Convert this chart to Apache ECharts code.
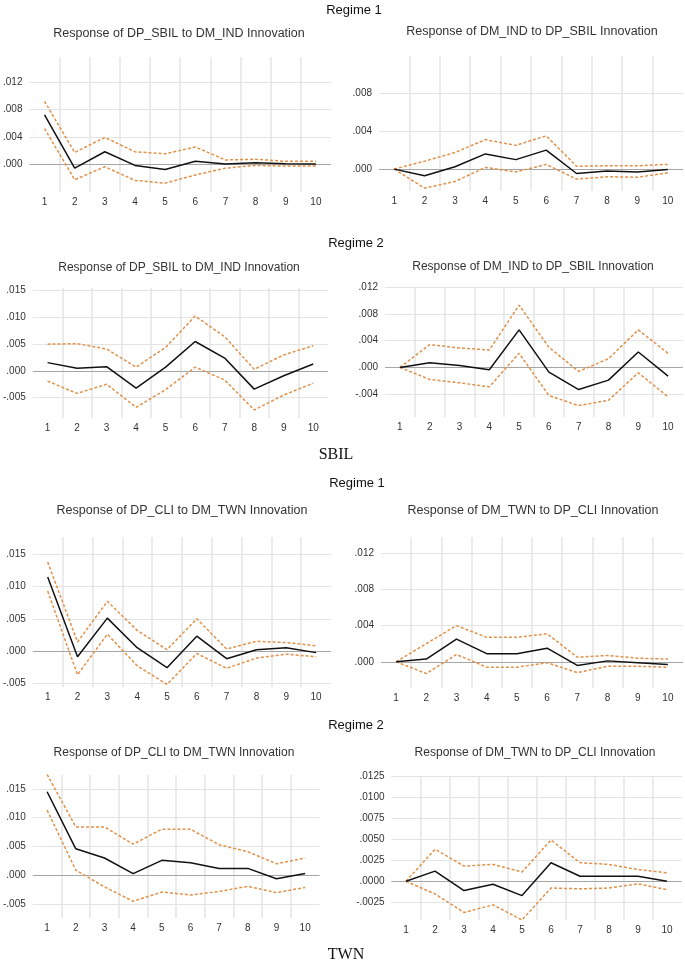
<!DOCTYPE html>
<html>
<head>
<meta charset="utf-8">
<script src="https://cdn.jsdelivr.net/npm/echarts@6/dist/echarts.min.js"></script>
<style>
html, body { margin: 0; padding: 0; background: #fff; }
#main { width: 685px; height: 966px; }
</style>
</head>
<body>
<div id="main"></div>
<script>
// horizon 1..10
const periods = ['1', '2', '3', '4', '5', '6', '7', '8', '9', '10'];

// SBIL, regime 1
const sbilR1DpResp = [0.0072, -0.0006, 0.0018, -0.0002, -0.0008, 0.0004, 0.0000, 0.0002, 0.00005, 0.0000];
const sbilR1DpUp = [0.0092, 0.0017, 0.0039, 0.0018, 0.0015, 0.0025, 0.0006, 0.0007, 0.0004, 0.0004];
const sbilR1DpLo = [0.0052, -0.0023, -0.0004, -0.0024, -0.0028, -0.0016, -0.0006, -0.0002, -0.0003, -0.0003];
const sbilR1DmResp = [0.0000, -0.0007, 0.00025, 0.0016, 0.0010, 0.0020, -0.00046, -0.0002, -0.0003, -0.00004];
const sbilR1DmUp = [0.0000, 0.00084, 0.00175, 0.0031, 0.0025, 0.0035, 0.0003, 0.00035, 0.00035, 0.0005];
const sbilR1DmLo = [0.0000, -0.0020, -0.0013, 0.00018, -0.0003, 0.0005, -0.00105, -0.0008, -0.00085, -0.0004];

// SBIL, regime 2
const sbilR2DpResp = [0.00155, 0.0005, 0.0008, -0.0032, 0.0007, 0.0055, 0.0024, -0.0034, -0.0009, 0.0013];
const sbilR2DpUp = [0.0050, 0.0051, 0.0041, 0.0007, 0.0044, 0.01025, 0.0064, 0.0003, 0.0030, 0.0047];
const sbilR2DpLo = [-0.0019, -0.0042, -0.0025, -0.0068, -0.0035, 0.0007, -0.0017, -0.0073, -0.0045, -0.0023];
const sbilR2DmResp = [0.0000, 0.0007, 0.0003, -0.00035, 0.0056, -0.0007, -0.0033, -0.0019, 0.0023, -0.0013];
const sbilR2DmUp = [0.0000, 0.0034, 0.0029, 0.0026, 0.0093, 0.0030, -0.0006, 0.0013, 0.0056, 0.0021];
const sbilR2DmLo = [0.0000, -0.0018, -0.0023, -0.0029, 0.0021, -0.0042, -0.0057, -0.0049, -0.0008, -0.0044];

// TWN, regime 1
const twnR1DpResp = [0.0115, -0.0009, 0.0051, 0.0005, -0.0026, 0.0023, -0.0012, 0.0002, 0.0005, -0.00026];
const twnR1DpUp = [0.0138, 0.0014, 0.0077, 0.0032, 0.0002, 0.0050, 0.0003, 0.0015, 0.0013, 0.0008];
const twnR1DpLo = [0.0093, -0.0037, 0.0026, -0.0023, -0.0052, -0.0004, -0.0027, -0.0011, -0.0005, -0.0009];
const twnR1DmResp = [0.0000, 0.0003, 0.0025, 0.0009, 0.0009, 0.0015, -0.0004, 0.0001, -0.0001, -0.0003];
const twnR1DmUp = [0.0000, 0.0020, 0.0040, 0.0027, 0.0027, 0.0031, 0.0005, 0.0007, 0.0004, 0.0003];
const twnR1DmLo = [0.0000, -0.0013, 0.0008, -0.0006, -0.0006, -0.0001, -0.0012, -0.0005, -0.0005, -0.0006];

// TWN, regime 2
const twnR2DpResp = [0.0145, 0.0046, 0.0030, 0.0003, 0.0026, 0.0022, 0.0012, 0.0012, -0.0006, 0.0003];
const twnR2DpUp = [0.0175, 0.0084, 0.0084, 0.0054, 0.0080, 0.0080, 0.0053, 0.0041, 0.0020, 0.0030];
const twnR2DpLo = [0.0113, 0.0009, -0.0020, -0.0045, -0.0029, -0.0034, -0.0028, -0.0019, -0.0030, -0.0021];
const twnR2DmResp = [0.0000, 0.0012, -0.0011, -0.00036, -0.0017, 0.0022, 0.0006, 0.0006, 0.0006, 0.0000];
const twnR2DmUp = [0.0000, 0.0038, 0.0018, 0.0020, 0.0011, 0.0049, 0.0022, 0.0020, 0.0014, 0.0010];
const twnR2DmLo = [0.0000, -0.0015, -0.0037, -0.0028, -0.0046, -0.0008, -0.0009, -0.0008, -0.0003, -0.0010];

// y tick labels per panel
const ticksA = [0, 0.004, 0.008, 0.012];
const ticksB = [0, 0.004, 0.008];
const ticksC = [-0.005, 0, 0.005, 0.010, 0.015];
const ticksD = [-0.004, 0, 0.004, 0.008, 0.012];
const ticksE = [-0.0025, 0, 0.0025, 0.0050, 0.0075, 0.0100, 0.0125];

const panels = [
  { title: 'Response of DP_SBIL to DM_IND Innovation', tx: 179, ty: 34, fs: 12.5, grid: [27, 57, 304, 135], min: -0.0041, max: 0.0157, ticks: ticksA, dec: 3, resp: sbilR1DpResp, up: sbilR1DpUp, lo: sbilR1DpLo },
  { title: 'Response of DM_IND to DP_SBIL Innovation', tx: 532, ty: 32, fs: 12.5, grid: [379, 56, 304, 135], min: -0.0023, max: 0.0119, ticks: ticksB, dec: 3, resp: sbilR1DmResp, up: sbilR1DmUp, lo: sbilR1DmLo },
  { title: 'Response of DP_SBIL to DM_IND Innovation', tx: 179, ty: 268, fs: 12, grid: [29, 288, 299, 130], min: -0.0088, max: 0.0155, ticks: ticksC, dec: 3, resp: sbilR2DpResp, up: sbilR2DpUp, lo: sbilR2DpLo },
  { title: 'Response of DM_IND to DP_SBIL Innovation', tx: 533, ty: 267, fs: 12, grid: [385, 287, 298, 130], min: -0.0074, max: 0.012, ticks: ticksD, dec: 3, resp: sbilR2DmResp, up: sbilR2DmUp, lo: sbilR2DmLo },
  { title: 'Response of DP_CLI to DM_TWN Innovation', tx: 182, ty: 511, fs: 12.5, grid: [30, 537, 301, 150], min: -0.0056, max: 0.0177, ticks: ticksC, dec: 3, resp: twnR1DpResp, up: twnR1DpUp, lo: twnR1DpLo },
  { title: 'Response of DM_TWN to DP_CLI Innovation', tx: 533, ty: 511, fs: 12.5, grid: [381, 537, 302, 151], min: -0.0029, max: 0.0138, ticks: ticksA, dec: 3, resp: twnR1DmResp, up: twnR1DmUp, lo: twnR1DmLo },
  { title: 'Response of DP_CLI to DM_TWN Innovation', tx: 174, ty: 753, fs: 12, grid: [28.5, 775, 291, 143], min: -0.0074, max: 0.0174, ticks: ticksC, dec: 3, resp: twnR2DpResp, up: twnR2DpUp, lo: twnR2DpLo },
  { title: 'Response of DM_TWN to DP_CLI Innovation', tx: 535, ty: 753, fs: 12, grid: [391.5, 776, 290, 144], min: -0.0046, max: 0.0125, ticks: ticksE, dec: 4, resp: twnR2DmResp, up: twnR2DmUp, lo: twnR2DmLo }
];

const labelFont = '"Liberation Sans", Arial, sans-serif';
const bandColor = '#e0914a';
const gridColor = '#e4e4e4';

function fmt(v, dec) {
  return v.toFixed(dec).replace('0.', '.');
}

var chartDom = document.getElementById('main');
var myChart = echarts.init(chartDom);

var grids = [], xAxes = [], yAxes = [], series = [], graphics = [];

panels.forEach((p, i) => {
  grids.push({ left: p.grid[0], top: p.grid[1], width: p.grid[2], height: p.grid[3] });
  xAxes.push({
    type: 'category',
    gridIndex: i,
    data: periods,
    boundaryGap: true,
    axisLine: { show: false },
    axisTick: { show: false },
    axisLabel: { color: '#333', fontSize: 10, margin: 5, fontFamily: labelFont },
    splitLine: { show: true, showMinLine: false, showMaxLine: false, lineStyle: { color: gridColor, width: 1.5 } }
  });
  yAxes.push({
    type: 'value',
    gridIndex: i,
    min: p.min,
    max: p.max,
    axisLine: { show: false },
    axisTick: { show: false, customValues: p.ticks },
    axisLabel: {
      customValues: p.ticks,
      color: '#333',
      fontSize: 10,
      margin: 7,
      fontFamily: labelFont,
      formatter: v => fmt(v, p.dec)
    },
    splitLine: { show: true, lineStyle: { color: gridColor, width: 1.2 } }
  });
  series.push({
    type: 'line', xAxisIndex: i, yAxisIndex: i, data: p.up,
    symbol: 'none', silent: true,
    lineStyle: { color: bandColor, width: 1.5, type: [3, 2] }
  });
  series.push({
    type: 'line', xAxisIndex: i, yAxisIndex: i, data: p.lo,
    symbol: 'none', silent: true,
    lineStyle: { color: bandColor, width: 1.5, type: [3, 2] }
  });
  series.push({
    type: 'line', xAxisIndex: i, yAxisIndex: i, data: p.resp,
    symbol: 'none', silent: true, z: 3,
    lineStyle: { color: '#111', width: 1.5 },
    markLine: {
      silent: true, symbol: 'none', z: 1,
      label: { show: false },
      lineStyle: { color: '#a6a6a6', width: 1.2, type: 'solid' },
      data: [{ yAxis: 0 }]
    }
  });
  graphics.push({
    type: 'text', x: p.tx, y: p.ty,
    style: { text: p.title, fill: '#333', font: p.fs + 'px ' + labelFont, textAlign: 'center', textVerticalAlign: 'middle' }
  });
});

const heads = [
  { text: 'Regime 1', x: 354, y: 10, font: '13px ' + labelFont },
  { text: 'Regime 2', x: 356, y: 243, font: '13px ' + labelFont },
  { text: 'SBIL', x: 336, y: 455, font: '16px "Liberation Serif", "Times New Roman", serif' },
  { text: 'Regime 1', x: 357, y: 483, font: '13px ' + labelFont },
  { text: 'Regime 2', x: 356, y: 725, font: '13px ' + labelFont },
  { text: 'TWN', x: 346, y: 955, font: '16px "Liberation Serif", "Times New Roman", serif' }
];
heads.forEach(h => {
  graphics.push({
    type: 'text', x: h.x, y: h.y,
    style: { text: h.text, fill: '#111', font: h.font, textAlign: 'center', textVerticalAlign: 'middle' }
  });
});

var option = {
  backgroundColor: '#fff',
  animation: false,
  grid: grids,
  xAxis: xAxes,
  yAxis: yAxes,
  series: series,
  graphic: graphics
};
option && myChart.setOption(option);
window.addEventListener('resize', () => {
  myChart.resize();
});
</script>
</body>
</html>
